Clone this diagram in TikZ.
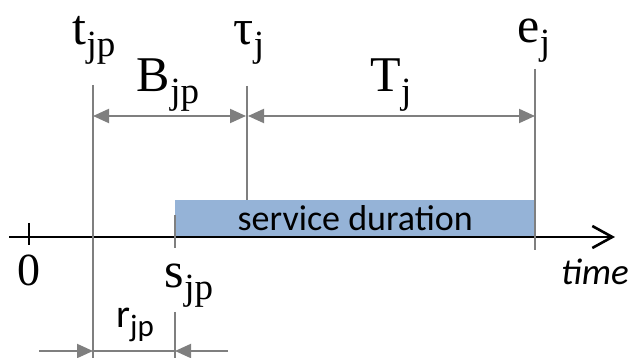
\documentclass[tikz,border=0pt]{standalone}
\usepackage{fontspec}
\setmainfont{Liberation Serif}
\newfontfamily\calibri{Carlito}
\usetikzlibrary{positioning, arrows.meta}
\definecolor{dimgray}{HTML}{7F7F7F}
\definecolor{svcblue}{HTML}{95B3D7}
% symbol with a lowered index
\newcommand{\tlabel}[2]{{\fontsize{50}{50}\selectfont #1}\raisebox{-12pt}{\fontsize{37}{37}\selectfont #2}}
\newcommand{\slabel}[2]{{\calibri\fontsize{40}{40}\selectfont #1}\raisebox{-9pt}{\calibri\fontsize{31}{31}\selectfont #2}}

\begin{document}
\begin{tikzpicture}[
      x=1pt, y=-1pt,
      dimline/.style={draw=dimgray, line width=2pt},
      dimarrow/.style={dimline, -{Triangle[length=16pt, width=14pt]}},
      dimboth/.style={dimline, {Triangle[length=16pt, width=14pt]}-{Triangle[length=16pt, width=14pt]}},
      axis/.style={line width=2.6pt, -{Straight Barb[length=20pt, width=22pt, line width=2.6pt]}},
      tick/.style={line width=2pt},
      lbl/.style={inner sep=0pt, anchor=base},
      service/.style={fill=svcblue, inner sep=0pt, anchor=south west,
                      minimum width=360pt, minimum height=37pt,
                      font=\calibri\fontsize{36}{36}\selectfont},
    ]
    \useasboundingbox (0,0) rectangle (633,358);

    % points on the time axis
    \coordinate (ax start) at (9,237);
    \coordinate (ax end) at (615,237);
    \coordinate (zero top) at (29,223);
    \coordinate (zero bot) at (29,245);
    \coordinate (tjp top) at (93,85);
    \coordinate (tjp bot) at (93,358);
    \coordinate (sjp) at (175,237);
    \coordinate (sjp top) at (175,215);
    \coordinate (sjp bot) at (175,248);
    \coordinate (sjp low) at (175,312);
    \coordinate (sjp end) at (175,358);
    \coordinate (tau top) at (247,86);
    \coordinate (tau bot) at (247,200);
    \coordinate (ej top) at (535,69);
    \coordinate (ej bot) at (535,250);
    % rows of the dimension arrows
    \coordinate (dim row) at (0,116);
    \coordinate (r left) at (39,351);
    \coordinate (r right) at (228,351);

    \node[service] (svc) at (sjp) {service duration\hspace{18pt}};

    \draw[axis] (ax start) -- (ax end);
    \draw[tick] (zero top) -- (zero bot);

    \draw[dimline] (tjp top) -- (tjp bot);
    \draw[dimline] (sjp top) -- (sjp bot);
    \draw[dimline] (sjp low) -- (sjp end);
    \draw[dimline] (tau top) -- (tau bot);
    \draw[dimline] (ej top) -- (ej bot);

    \draw[dimboth] (tjp top |- dim row) -- ([xshift=-1pt]tau top |- dim row);
    \draw[dimboth] ([xshift=1pt]tau top |- dim row) -- (ej top |- dim row);
    \draw[dimarrow] (r left) -- (tjp top |- r left);
    \draw[dimline] (tjp top |- r left) -- (sjp |- r left);
    \draw[dimarrow] (r right) -- (sjp |- r left);

    \node[lbl] (tjp lbl) at (94,45) {\tlabel{t}{jp}};
    \node[lbl] (tau lbl) at (249,45) {\tlabel{τ}{j}};
    \node[lbl] (ej lbl) at (534,43) {\tlabel{e}{j}};
    \node[lbl] (B lbl) at (168,92) {\tlabel{B}{jp}};
    \node[lbl] (T lbl) at (391,92) {\tlabel{T}{j}};
    \node[lbl] (sjp lbl) at (189,288) {\tlabel{s}{jp}};
    \node[lbl, font=\fontsize{46}{46}\selectfont] (zero lbl) at (29,286) {0};
    \node[lbl] (r lbl) at (135,328) {\slabel{r}{jp}};
    \node[lbl, font=\calibri\itshape\fontsize{37}{37}\selectfont] (time lbl) at (595,285) {time};
  \end{tikzpicture}
\end{document}
